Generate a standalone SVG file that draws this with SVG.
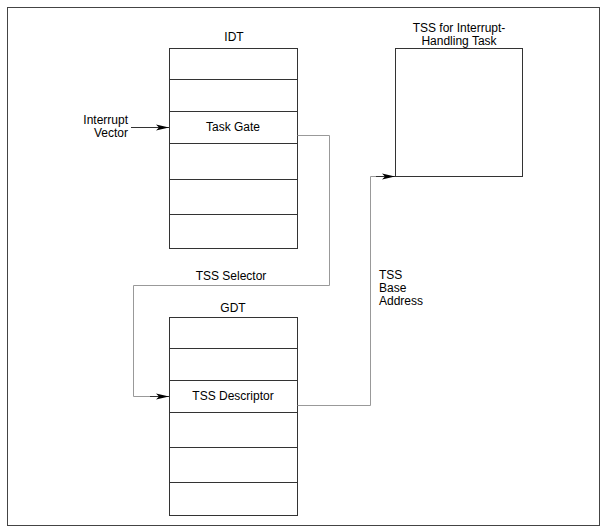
<svg xmlns="http://www.w3.org/2000/svg" width="607" height="532" viewBox="0 0 607 532">
<style>
text{font-family:"Liberation Sans",Arial,sans-serif;font-size:12px;fill:#000}
.c{text-anchor:middle}
.r{text-anchor:end}
.box{fill:#fff;stroke:#333;stroke-width:1}
.row{stroke:#333;stroke-width:1}
.conn{fill:none;stroke:#999;stroke-width:1}
.arr{fill:none;stroke:#333;stroke-width:1}
</style>
<defs>
<marker id="ah" markerWidth="14" markerHeight="8" refX="13" refY="4" orient="auto" markerUnits="userSpaceOnUse">
<path d="M0,1 L13,4 L0,7 L3,4 Z" fill="#000"/>
</marker>
</defs>
<rect x="7.5" y="7.5" width="592" height="518" fill="#fff" stroke="#444" stroke-width="1"/>
<g id="idt">
<text class="c" x="234" y="41">IDT</text>
<rect class="box" x="169.5" y="48.5" width="128" height="200"/>
<line class="row" x1="169.5" y1="79.5" x2="297.5" y2="79.5"/>
<line class="row" x1="169.5" y1="111.5" x2="297.5" y2="111.5"/>
<line class="row" x1="169.5" y1="143.5" x2="297.5" y2="143.5"/>
<line class="row" x1="169.5" y1="179.5" x2="297.5" y2="179.5"/>
<line class="row" x1="169.5" y1="214.5" x2="297.5" y2="214.5"/>
<text class="c" x="233" y="131">Task Gate</text>
</g>
<g id="gdt">
<text class="c" x="233" y="312">GDT</text>
<rect class="box" x="169.5" y="317.5" width="128" height="198"/>
<line class="row" x1="169.5" y1="348.5" x2="297.5" y2="348.5"/>
<line class="row" x1="169.5" y1="380.5" x2="297.5" y2="380.5"/>
<line class="row" x1="169.5" y1="412.5" x2="297.5" y2="412.5"/>
<line class="row" x1="169.5" y1="447.5" x2="297.5" y2="447.5"/>
<line class="row" x1="169.5" y1="482.5" x2="297.5" y2="482.5"/>
<text class="c" x="233" y="400">TSS Descriptor</text>
</g>
<g id="tss">
<text class="c" x="459" y="32">TSS for Interrupt-</text>
<text class="c" x="459" y="45">Handling Task</text>
<rect class="box" x="395.5" y="48.5" width="127" height="128"/>
</g>
<g id="interrupt-vector">
<text class="r" x="128" y="124">Interrupt</text>
<text class="r" x="128" y="137">Vector</text>
</g>
<g id="connectors">
<line class="arr" x1="131" y1="127.5" x2="169" y2="127.5" marker-end="url(#ah)"/>
<polyline class="conn" points="297.5,135.5 329.5,135.5 329.5,285.5 133.5,285.5 133.5,396.5 155,396.5"/>
<line class="arr" x1="150" y1="396.5" x2="169" y2="396.5" marker-end="url(#ah)"/>
<polyline class="conn" points="297.5,405.5 370.5,405.5 370.5,176.5 380,176.5"/>
<line class="arr" x1="376" y1="176.5" x2="395" y2="176.5" marker-end="url(#ah)"/>
<text class="c" x="231" y="280">TSS Selector</text>
<text x="379" y="279">TSS</text>
<text x="379" y="292">Base</text>
<text x="379" y="305">Address</text>
</g>
</svg>
